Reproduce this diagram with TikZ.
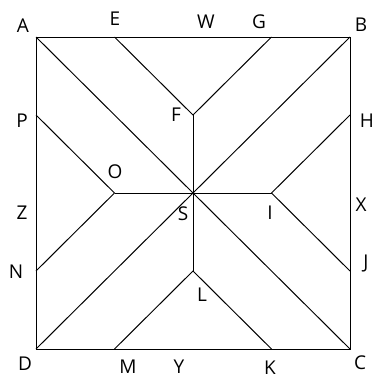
\documentclass[tikz,border=0pt]{standalone}
\usepackage{fontspec}
\setmainfont{Open Sans}
\begin{document}
\begin{tikzpicture}[x=1pt,y=-1pt,
  edge/.style={line width=1pt,black},
  lab/.style={font=\fontsize{19}{22}\selectfont,inner sep=0pt,anchor=center}]
\useasboundingbox (0,0) rectangle (374,378);
% points
\coordinate (A) at (36,37);
\coordinate (B) at (350,37);
\coordinate (C) at (350,349);
\coordinate (D) at (36,349);
\coordinate (E) at (114.5,37);
\coordinate (G) at (271.5,37);
\coordinate (F) at (193,115);
\coordinate (P) at (36,115);
\coordinate (N) at (36,271);
\coordinate (O) at (114.5,193);
\coordinate (H) at (350,115);
\coordinate (J) at (350,271);
\coordinate (I) at (271.5,193);
\coordinate (M) at (114.5,349);
\coordinate (K) at (271.5,349);
\coordinate (L) at (193,271);
\coordinate (S) at (193,193);
% lines
\draw[edge] (A) -- (B) -- (C) -- (D) -- cycle;
\draw[edge] (A) -- (C);
\draw[edge] (B) -- (D);
\draw[edge] (E) -- (F) -- (G);
\draw[edge] (F) -- (L);
\draw[edge] (P) -- (O) -- (N);
\draw[edge] (O) -- (I);
\draw[edge] (H) -- (I) -- (J);
\draw[edge] (M) -- (L) -- (K);
\fill (S) circle (1.3);
% labels
\node[lab] (lA) at (23,26) {A};
\node[lab] (lE) at (115,19) {E};
\node[lab] (lW) at (206,22) {W};
\node[lab] (lG) at (259,22) {G};
\node[lab] (lB) at (361,25) {B};
\node[lab] (lF) at (176,115) {F};
\node[lab] (lP) at (22,121) {P};
\node[lab] (lH) at (367,121) {H};
\node[lab] (lO) at (115,172) {O};
\node[lab] (lZ) at (22,213) {Z};
\node[lab] (lS) at (183,214) {S};
\node[lab] (lI) at (270,213) {I};
\node[lab] (lX) at (361,205) {X};
\node[lab] (lN) at (16,272) {N};
\node[lab] (lJ) at (366,264) {J};
\node[lab] (lL) at (202,295) {L};
\node[lab] (lD) at (25,364) {D};
\node[lab] (lM) at (128,367) {M};
\node[lab] (lY) at (179,367) {Y};
\node[lab] (lK) at (270,368) {K};
\node[lab] (lC) at (360,363) {C};
\end{tikzpicture}
\end{document}
